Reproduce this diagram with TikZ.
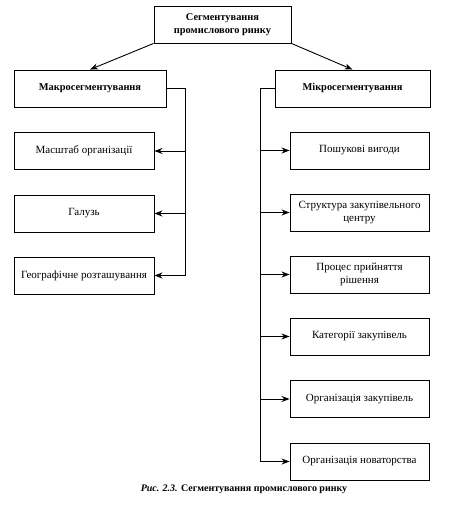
\documentclass[tikz,border=0pt]{standalone}
\usepackage{fontspec}
\setmainfont{Liberation Serif}
\usetikzlibrary{arrows.meta}

\begin{document}
\begin{tikzpicture}[x=1pt,y=-1pt,
	box/.style={draw,line width=0.9pt,align=center,inner sep=2pt,font=\fontsize{11}{13}\selectfont},
	head/.style={box,font=\fontsize{10.4}{12.5}\selectfont\bfseries},
	arr/.style={-{Stealth[length=8pt,width=6pt]},line width=0.9pt}]
	\useasboundingbox (0,0) rectangle (452,513);
	% top level
	\node[head,minimum width=137,minimum height=37] (seg) at (222.5,24.5) {Сегментування\\промислового ринку};
	\node[head,minimum width=152,minimum height=37] (macro) at (90,88.5) {Макросегментування};
	\node[head,minimum width=155,minimum height=37] (micro) at (352.5,88.5) {Мікросегментування};
	\draw[arr] (seg.south west) -- (macro.north);
	\draw[arr] (seg.south east) -- (micro.north);
	% left column
	\node[box,minimum width=140,minimum height=37] (scale) at (84,151) {Масштаб організації};
	\node[box,minimum width=140,minimum height=37] (branch) at (84,213.5) {Галузь};
	\node[box,minimum width=140,minimum height=37] (geo) at (84,275.5) {Географічне розташування};
	\coordinate (busL) at (185,88.5);
	\draw[arr] (macro.east) -- (busL) |- (geo.east);
	\draw[arr] (busL |- scale.east) -- (scale.east);
	\draw[arr] (busL |- branch.east) -- (branch.east);
	% right column
	\node[box,minimum width=139,minimum height=37] (search) at (359.5,150.5) {Пошукові вигоди};
	\node[box,minimum width=139,minimum height=37] (centre) at (359.5,212.5) {Структура закупівельного\\центру};
	\node[box,minimum width=139,minimum height=37] (decide) at (359.5,274.5) {Процес прийняття\\рішення};
	\node[box,minimum width=139,minimum height=37] (categ) at (359.5,336.5) {Категорії закупівель};
	\node[box,minimum width=139,minimum height=37] (orgbuy) at (359.5,399) {Організація закупівель};
	\node[box,minimum width=139,minimum height=37] (orgnew) at (359.5,461.5) {Організація новаторства};
	\coordinate (busR) at (260,88.5);
	\draw[arr] (micro.west) -- (busR) |- (orgnew.west);
	\foreach \n in {search,centre,decide,categ,orgbuy}
		\draw[arr] (busR |- \n.west) -- (\n.west);
	% caption
	\node[font=\fontsize{10}{12}\selectfont\bfseries] (caption) at (244,489) {\textit{Рис. 2.3.} Сегментування промислового ринку};
\end{tikzpicture}
\end{document}
